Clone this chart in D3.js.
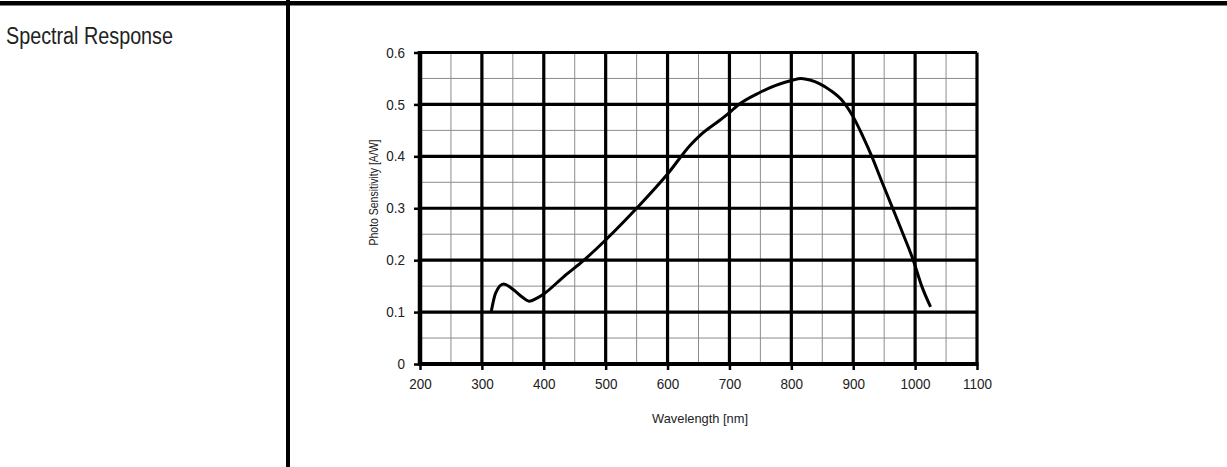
<!DOCTYPE html>
<html>
<head>
<meta charset="utf-8">
<script src="https://cdn.jsdelivr.net/npm/d3@7"></script>
<style>
  body { margin: 0; background: #fff; }
  svg { display: block; font-family: "Liberation Sans", Arial, sans-serif; }
</style>
</head>
<body>
<script>
// curve
const wavelength = [315, 322, 335, 351, 365, 376, 389, 400, 432, 462, 486, 550, 600, 637, 653, 685, 700, 712, 749, 800, 816, 830, 862, 884, 900, 915, 930, 945, 962, 981, 997, 1011, 1025];
const sensitivity = [0.100, 0.136, 0.154, 0.143, 0.129, 0.121, 0.127, 0.135, 0.168, 0.197, 0.223, 0.300, 0.366, 0.422, 0.441, 0.470, 0.484, 0.497, 0.523, 0.546, 0.550, 0.547, 0.528, 0.505, 0.476, 0.440, 0.400, 0.355, 0.305, 0.249, 0.200, 0.149, 0.110];

const xTicks = [200, 300, 400, 500, 600, 700, 800, 900, 1000, 1100];
const xMinor = [250, 350, 450, 550, 650, 750, 850, 950, 1050];
const yTicks = [0, 0.1, 0.2, 0.3, 0.4, 0.5, 0.6];
const yMinor = [0.05, 0.15, 0.25, 0.35, 0.45, 0.55];
const yTickLabels = ['0', '0.1', '0.2', '0.3', '0.4', '0.5', '0.6'];

const width = 1227;
const height = 467;

// no narrow font installed, so squeeze the glyphs a bit
function condense(sel, k) {
  sel.each(function() {
    const len = this.getComputedTextLength();
    d3.select(this)
      .attr('textLength', len * k)
      .attr('lengthAdjust', 'spacingAndGlyphs');
  });
}

const svg = d3.select('body')
  .append('svg')
  .attr('width', width)
  .attr('height', height);

// page rules of the datasheet
svg.append('rect')
  .attr('x', 0).attr('y', 1)
  .attr('width', width).attr('height', 4.5)
  .attr('fill', '#000');
svg.append('rect')
  .attr('x', 286).attr('y', 0)
  .attr('width', 4).attr('height', height)
  .attr('fill', '#000');

svg.append('text')
  .attr('x', 6)
  .attr('y', 44)
  .attr('font-size', 23)
  .attr('fill', '#222')
  .text('Spectral Response')
  .attr('textLength', 167)
  .attr('lengthAdjust', 'spacingAndGlyphs');

const x = d3.scaleLinear().domain([200, 1100]).range([420, 977]);
const y = d3.scaleLinear().domain([0, 0.6]).range([364, 52.5]);

const grid = svg.append('g').attr('class', 'grid');

grid.selectAll('.vminor')
  .data(xMinor)
  .enter().append('line')
    .attr('x1', d => x(d)).attr('x2', d => x(d))
    .attr('y1', y(0)).attr('y2', y(0.6))
    .style('stroke', '#8c8c8c')
    .style('stroke-width', 1);

grid.selectAll('.hminor')
  .data(yMinor)
  .enter().append('line')
    .attr('y1', d => y(d)).attr('y2', d => y(d))
    .attr('x1', x(200)).attr('x2', x(1100))
    .style('stroke', '#8c8c8c')
    .style('stroke-width', 1);

grid.selectAll('.vmajor')
  .data(xTicks)
  .enter().append('line')
    .attr('x1', d => x(d)).attr('x2', d => x(d))
    .attr('y1', y(0)).attr('y2', y(0.6))
    .style('stroke', '#000')
    .style('stroke-width', 3.2);

grid.selectAll('.hmajor')
  .data(yTicks)
  .enter().append('line')
    .attr('y1', d => y(d)).attr('y2', d => y(d))
    .attr('x1', x(200)).attr('x2', x(1100))
    .style('stroke', '#000')
    .style('stroke-width', 3.2);

// frame, left and bottom a bit heavier
svg.append('line')
  .attr('x1', x(200)).attr('x2', x(200))
  .attr('y1', y(0) + 1.5).attr('y2', y(0.6) - 1.5)
  .style('stroke', '#000')
  .style('stroke-width', 4.5);
svg.append('line')
  .attr('x1', x(200) - 1.5).attr('x2', x(1100) + 1.5)
  .attr('y1', y(0)).attr('y2', y(0))
  .style('stroke', '#000')
  .style('stroke-width', 4);

const line = d3.line()
  .x((d, i) => x(wavelength[i]))
  .y(d => y(d))
  .curve(d3.curveMonotoneX);

svg.append('path')
  .datum(sensitivity)
  .attr('d', line)
  .style('fill', 'none')
  .style('stroke', '#000')
  .style('stroke-width', 3)
  .style('stroke-linejoin', 'round');

const yAxis = d3.axisLeft(y)
  .tickValues(yTicks)
  .tickFormat((d, i) => yTickLabels[i])
  .tickSize(6)
  .tickPadding(9);

const xAxis = d3.axisBottom(x)
  .tickValues(xTicks)
  .tickFormat(d3.format('d'))
  .tickSize(6)
  .tickPadding(9);

svg.append('g')
  .attr('transform', `translate(${x(200)},0)`)
  .call(yAxis)
  .call(g => g.select('.domain').remove())
  .call(g => g.selectAll('line').style('stroke', '#000').style('stroke-width', 2.5))
  .call(g => g.selectAll('text').attr('font-size', 14.5).attr('fill', '#222')
    .attr('font-family', '"Liberation Sans", Arial, sans-serif'))
  .call(g => condense(g.selectAll('text'), 0.93));

svg.append('g')
  .attr('transform', `translate(0,${y(0)})`)
  .call(xAxis)
  .call(g => g.select('.domain').remove())
  .call(g => g.selectAll('line').style('stroke', '#000').style('stroke-width', 2.5))
  .call(g => g.selectAll('text').attr('font-size', 14.5).attr('fill', '#222')
    .attr('font-family', '"Liberation Sans", Arial, sans-serif'))
  .call(g => condense(g.selectAll('text'), 0.93));

svg.append('text')
  .attr('transform', 'translate(378,192.5) rotate(-90)')
  .attr('text-anchor', 'middle')
  .attr('font-size', 13)
  .attr('fill', '#222')
  .text('Photo Sensitivity [A/W]')
  .attr('textLength', 106)
  .attr('lengthAdjust', 'spacingAndGlyphs');

svg.append('text')
  .attr('x', 700)
  .attr('y', 423)
  .attr('text-anchor', 'middle')
  .attr('font-size', 13.5)
  .attr('fill', '#222')
  .text('Wavelength [nm]')
  .attr('textLength', 96)
  .attr('lengthAdjust', 'spacingAndGlyphs');
</script>
</body>
</html>
